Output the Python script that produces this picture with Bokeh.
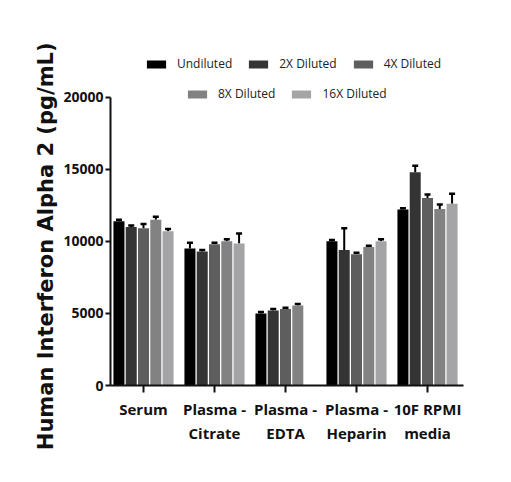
import numpy as np
from bokeh.plotting import figure
from bokeh.models import (ColumnDataSource, Legend, LegendItem, Whisker, TeeHead,
                          Title, FixedTicker)
from bokeh.embed import file_html
from bokeh.resources import INLINE

# ---- data ----
categories = ["Serum", "Plasma -\nCitrate", "Plasma -\nEDTA", "Plasma -\nHeparin", "10F RPMI\nmedia"]
series = ["Undiluted", "2X Diluted", "4X Diluted", "8X Diluted", "16X Diluted"]
undiluted = [11400, 9500, 5000, 10000, 12200]
diluted_2x = [11000, 9300, 5200, 9400, 14800]
diluted_4x = [10900, 9800, 5300, 9100, 13000]
diluted_8x = [11500, 10000, 5550, 9600, 12250]
diluted_16x = [10700, 9850, float("nan"), 10000, 12600]
undiluted_err = [100, 400, 100, 100, 100]
diluted_2x_err = [100, 100, 100, 1500, 450]
diluted_4x_err = [300, 100, 100, 100, 250]
diluted_8x_err = [200, 150, 100, 100, 300]
diluted_16x_err = [150, 700, 0, 150, 700]
y_ticks = [0, 5000, 10000, 15000, 20000]
colors = ["#000000", "#343434", "#5e5e5e", "#828282", "#a4a4a7"]

values = [undiluted, diluted_2x, diluted_4x, diluted_8x, diluted_16x]
errors = [undiluted_err, diluted_2x_err, diluted_4x_err, diluted_8x_err, diluted_16x_err]

FONT = "Open Sans"

p = figure(width=495, height=466, x_range=(-0.465, 4.507), y_range=(0, 24000),
           output_backend="svg", toolbar_location=None,
           min_border_left=110, min_border_right=32, min_border_top=39, min_border_bottom=81)
p.outline_line_color = None
p.xgrid.visible = False
p.ygrid.visible = False
p.background_fill_color = "white"

pitch = 0.173
bw = 0.155
renderers = []
for j, (vals, errs, col) in enumerate(zip(values, errors, colors)):
    xs, tops, ups = [], [], []
    for i, (v, e) in enumerate(zip(vals, errs)):
        if np.isnan(v):
            continue
        xs.append(i + (j - 2) * pitch)
        tops.append(v)
        ups.append(v + e)
    src = ColumnDataSource(dict(x=xs, top=tops, upper=ups))
    r = p.vbar(x="x", top="top", bottom=0, width=bw, source=src,
               fill_color=col, line_color=None)
    renderers.append(r)
    w = Whisker(base="x", lower="top", upper="upper", source=src,
                line_color="black", line_width=2,
                upper_head=TeeHead(size=6, line_width=2.5, line_color="black"),
                lower_head=None)
    p.add_layout(w)

# axes
p.xaxis.ticker = FixedTicker(ticks=list(range(len(categories))))
p.xaxis.major_label_overrides = {i: c for i, c in enumerate(categories)}
p.yaxis.ticker = FixedTicker(ticks=y_ticks)
p.yaxis.bounds = (0, 20000)
for ax in (p.xaxis[0], p.yaxis[0]):
    ax.axis_line_width = 2
    ax.axis_line_color = "#111111"
    ax.major_tick_line_width = 2
    ax.major_tick_line_color = "#111111"
    ax.minor_tick_line_color = None
    ax.major_tick_in = 0
    ax.major_label_text_font = FONT
    ax.major_label_text_font_style = "bold"
    ax.major_label_text_color = "#111111"
p.yaxis.major_label_text_font_size = "14px"
p.xaxis.major_label_text_font_size = "15px"
p.yaxis.major_tick_out = 5
p.yaxis.major_label_standoff = 2
p.xaxis.major_tick_out = 7
p.xaxis.major_label_standoff = 6

# y-axis title (left panel, anchored at the top)
ytitle = Title(text="Human Interferon Alpha 2 (pg/mL)", align="right", offset=3,
               text_font="DejaVu Sans", text_font_style="bold",
               text_font_size="21px", text_color="#111111", standoff=5)
p.add_layout(ytitle, "left")

# legends (two centred rows)
def make_legend(idx, loc):
    leg = Legend(items=[LegendItem(label=series[k], renderers=[renderers[k]]) for k in idx],
                 orientation="horizontal", location=loc,
                 border_line_color=None, background_fill_alpha=0,
                 glyph_width=24, glyph_height=10, label_height=14,
                 label_standoff=9, spacing=14, padding=0, margin=0,
                 label_text_font=FONT, label_text_font_size="12px",
                 label_text_color="#222222")
    p.add_layout(leg)

make_legend([0, 1, 2], (34, 313))
make_legend([3, 4], (75, 283))

open("out.html", "w").write(file_html(p, INLINE))
